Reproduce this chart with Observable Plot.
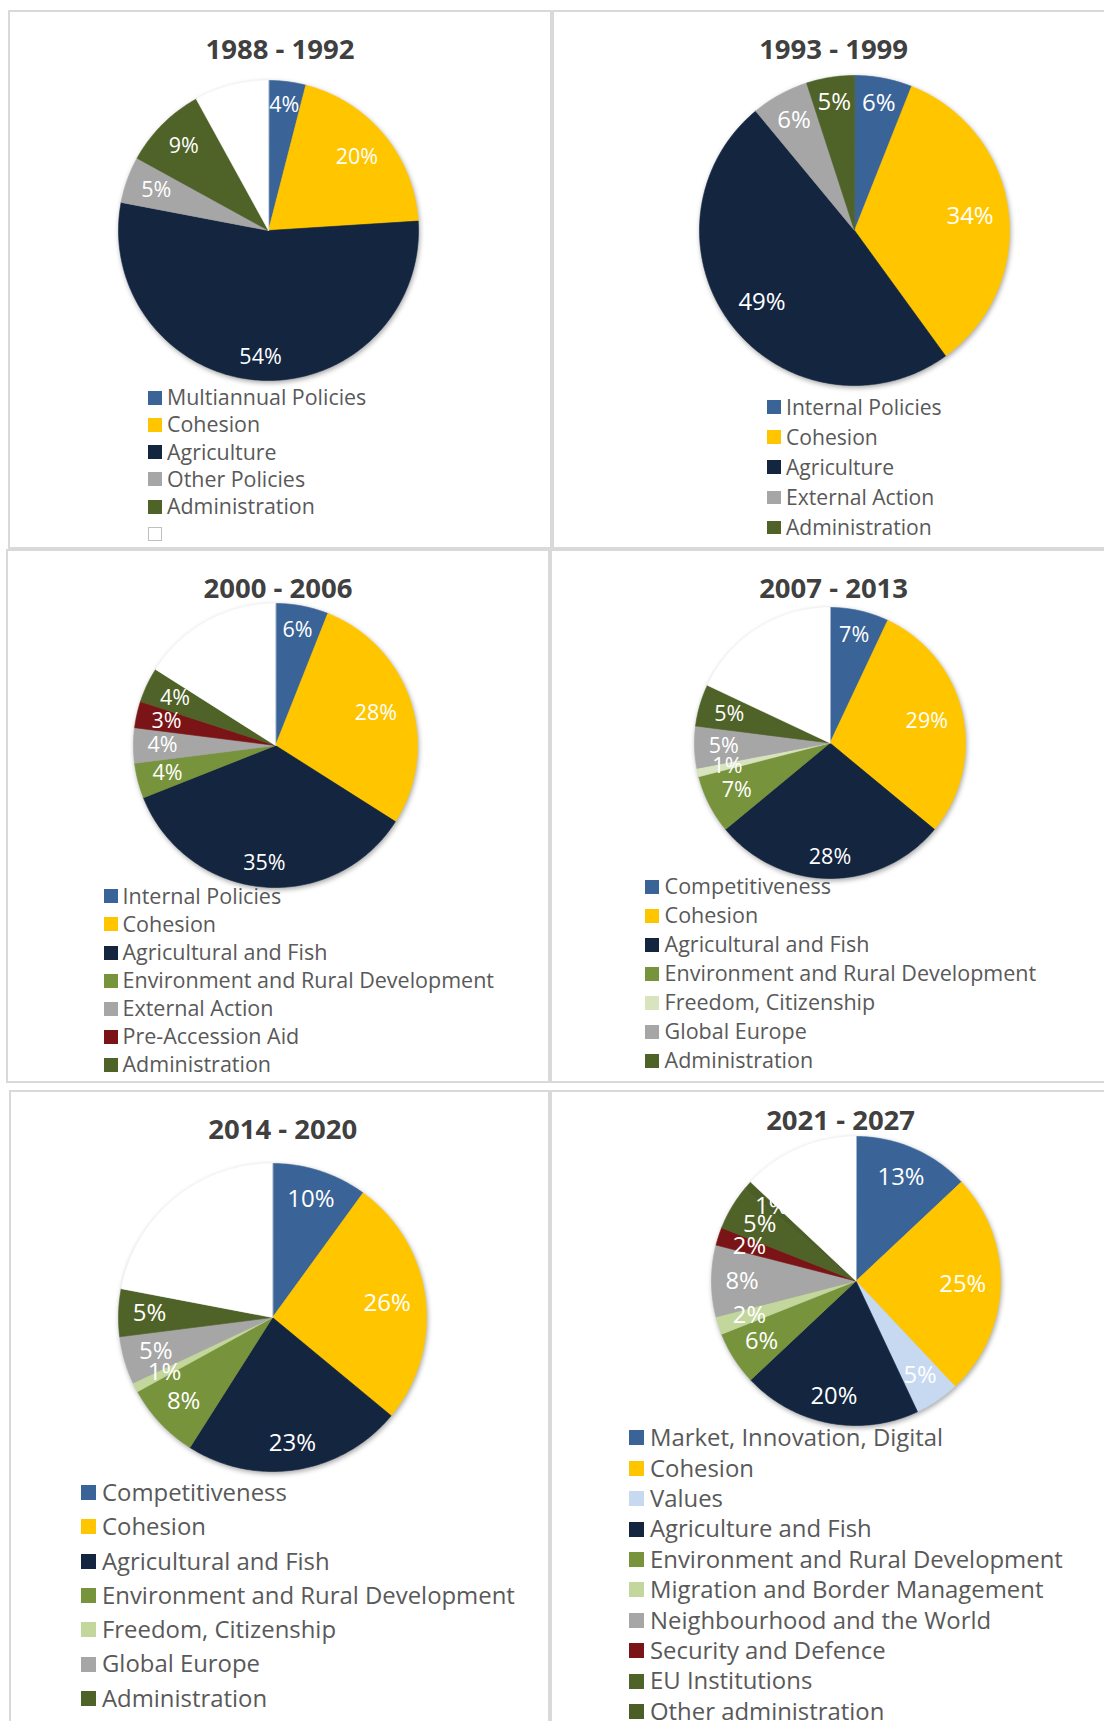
<!DOCTYPE html>
<html><head><meta charset="utf-8">
<script src="https://cdn.jsdelivr.net/npm/d3@7"></script>
<script src="https://cdn.jsdelivr.net/npm/@observablehq/plot@0.6"></script>
<style>
body{margin:0;background:#fff;}
#root{position:relative;width:1104px;height:1721px;overflow:hidden;font-family:'Open Sans',sans-serif;}
.box{position:absolute;box-sizing:border-box;border:2px solid #D9D9D9;}
.t{position:absolute;white-space:nowrap;line-height:1;font-family:'Open Sans',sans-serif;}
.sw{position:absolute;box-sizing:border-box;}
</style></head><body><div id="root"></div>
<script>
// ---------- DATA ----------
const titles = ["1988 - 1992", "1993 - 1999", "2000 - 2006", "2007 - 2013", "2014 - 2020", "2021 - 2027"];

const cats1988 = ["Multiannual Policies", "Cohesion", "Agriculture", "Other Policies", "Administration"];
const vals1988 = [4, 20, 54, 5, 9];

const cats1993 = ["Internal Policies", "Cohesion", "Agriculture", "External Action", "Administration"];
const vals1993 = [6, 34, 49, 6, 5];

const cats2000 = ["Internal Policies", "Cohesion", "Agricultural and Fish", "Environment and Rural Development", "External Action", "Pre-Accession Aid", "Administration"];
const vals2000 = [6, 28, 35, 4, 4, 3, 4];

const cats2007 = ["Competitiveness", "Cohesion", "Agricultural and Fish", "Environment and Rural Development", "Freedom, Citizenship", "Global Europe", "Administration"];
const vals2007 = [7, 29, 28, 7, 1, 5, 5];

const cats2014 = ["Competitiveness", "Cohesion", "Agricultural and Fish", "Environment and Rural Development", "Freedom, Citizenship", "Global Europe", "Administration"];
const vals2014 = [10, 26, 23, 8, 1, 5, 5];

const cats2021 = ["Market, Innovation, Digital", "Cohesion", "Values", "Agriculture and Fish", "Environment and Rural Development", "Migration and Border Management", "Neighbourhood and the World", "Security and Defence", "EU Institutions", "Other administration"];
const vals2021 = [13, 25, 5, 20, 6, 2, 8, 2, 5, 1];

// unlabelled white remainder slice of each pie
const unlabelled = [8, 0, 16, 18, 22, 13];

// ---------- STYLES / LAYOUT ----------
const C = {blue:"#3A6497", yellow:"#FFC600", navy:"#13253F", grey:"#A6A6A6", dgreen:"#4F6228",
  lgreen:"#77933C", pale:"#D7E4BD", pale2:"#C3D69B", red:"#7B1416", lblue:"#C6D9F1", dgreen2:"#4B5E26"};
const panels = [
  {cats:cats1988, vals:vals1988, cols:[C.blue,C.yellow,C.navy,C.grey,C.dgreen], blankKey:true,
   cx:268, cy:230, r:150, lfs:21.5, tx:280, tb:59.6, sx:148, ss:14, lx:167, y0:397.5, dy:27.3, fs:21.4},
  {cats:cats1993, vals:vals1993, cols:[C.blue,C.yellow,C.navy,C.grey,C.dgreen],
   cx:854, cy:230, r:155, lfs:24, tx:833.6, tb:59, sx:767, ss:13.5, lx:786, y0:407, dy:30.1, fs:21.1},
  {cats:cats2000, vals:vals2000, cols:[C.blue,C.yellow,C.navy,C.lgreen,C.grey,C.red,C.dgreen],
   cx:274.5, cy:745, r:142, lfs:21.5, tx:278, tb:598.4, sx:104, ss:14, lx:122.5, y0:896.3, dy:28.1, fs:21.5},
  {cats:cats2007, vals:vals2007, cols:[C.blue,C.yellow,C.navy,C.lgreen,C.pale,C.grey,C.dgreen],
   cx:829, cy:742.5, r:135.5, lfs:21.5, tx:833.6, tb:598.4, sx:645, ss:14, lx:664.6, y0:886.6, dy:29, fs:21.5},
  {cats:cats2014, vals:vals2014, cols:[C.blue,C.yellow,C.navy,C.lgreen,C.pale2,C.grey,C.dgreen],
   cx:272, cy:1317, r:154, lfs:24, tx:282.7, tb:1139.8, sx:81, ss:15, lx:102, y0:1492.6, dy:34.3, fs:23.9},
  {cats:cats2021, vals:vals2021, cols:[C.blue,C.yellow,C.lblue,C.navy,C.lgreen,C.pale2,C.grey,C.red,C.dgreen,C.dgreen2],
   cx:855.4, cy:1280, r:144.5, lfs:23.8, tx:840.6, tb:1130.4, sx:629, ss:15, lx:650, y0:1437.9, dy:30.4, fs:23.9}
];
const boxes = [[8,10,544,539],[552,10,560,539],[6,549,544,534],[550,549,560,534],[9,1090,541,700],[550,1090,560,700]];

const root = document.getElementById("root");
boxes.forEach(([l,t,w,h]) => {
  const d = document.createElement("div");
  d.className = "box";
  d.style.cssText += `left:${l}px;top:${t}px;width:${w}px;height:${h}px;`;
  root.appendChild(d);
});

function addText(txt, x, baseline, fs, weight, color, center) {
  const d = document.createElement("div");
  d.className = "t";
  d.textContent = txt;
  d.style.cssText += `font-size:${fs}px;font-weight:${weight};color:${color};left:${x}px;top:${baseline - 0.888*fs}px;` +
    (center ? "transform:translateX(-50%);" : "");
  root.appendChild(d);
}

function drawPie(vals, rest, cols, L) {
  const all = vals.concat(rest > 0 ? [rest] : []);
  const fills = cols.slice(0, vals.length).concat(rest > 0 ? ["#FFFFFF"] : []);
  const total = d3.sum(all);
  const step = Math.PI / 180;
  const pts = [], labs = [];
  let acc = 0;
  all.forEach((v, i) => {
    const a0 = acc / total * 2 * Math.PI, a1 = (acc + v) / total * 2 * Math.PI;
    acc += v;
    const n = Math.max(2, Math.ceil((a1 - a0) / step));
    pts.push({k: i, x: 0, y: 0, c: fills[i]});
    for (let j = 0; j <= n; j++) {
      const a = a0 + (a1 - a0) * j / n;
      pts.push({k: i, x: Math.sin(a), y: Math.cos(a), c: fills[i]});
    }
    if (i < vals.length) {
      const m = (a0 + a1) / 2, txt = v + "%";
      const w = L.lfs * (0.572 * (txt.length - 1) + 0.824);
      const d = L.r - 14 - (Math.abs(Math.sin(m)) * w / 2 + Math.abs(Math.cos(m)) * 0.36 * L.lfs);
      labs.push({x: Math.sin(m) * d / L.r, y: Math.cos(m) * d / L.r, t: txt});
    }
  });
  const pad = 12, size = 2 * L.r + 2 * pad;
  const svg = Plot.plot({
    width: size, height: size, margin: 0,
    style: {background: "transparent", overflow: "visible"},
    x: {domain: [-1, 1], range: [pad, pad + 2 * L.r], axis: null},
    y: {domain: [-1, 1], range: [pad + 2 * L.r, pad], axis: null},
    color: {type: "identity"},
    marks: [
      Plot.line(pts, {x: "x", y: "y", z: "k", fill: "c", stroke: "c", strokeWidth: 0.6, curve: "linear-closed"}),
      Plot.text(labs, {x: "x", y: "y", text: "t", fill: "white", fontSize: L.lfs, fontFamily: "'Open Sans', sans-serif"})
    ]
  });
  svg.style.position = "absolute";
  svg.style.left = (L.cx - L.r - pad) + "px";
  svg.style.top = (L.cy - L.r - pad) + "px";
  const g = svg.querySelector('g[aria-label="line"]');
  if (g) g.style.filter = "drop-shadow(1.5px 2.5px 2.5px rgba(0,0,0,0.35))";
  root.appendChild(svg);
}

panels.forEach((L, p) => {
  drawPie(L.vals, unlabelled[p], L.cols, L);
  addText(titles[p], L.tx, L.tb, 27.5, 700, "#404040", true);
  const items = L.cats.map((c, i) => ({name: c, col: L.cols[i]}));
  if (L.blankKey) items.push({name: "", col: "#FFFFFF", blank: true});
  items.forEach((it, i) => {
    const yc = L.y0 + i * L.dy;
    const s = document.createElement("div");
    s.className = "sw";
    s.style.cssText += `left:${L.sx}px;top:${yc - L.ss/2}px;width:${L.ss}px;height:${L.ss}px;background:${it.col};` +
      (it.blank ? "border:1.5px solid #BFBFBF;" : "");
    root.appendChild(s);
    if (it.name) addText(it.name, L.lx, yc + 0.357 * L.fs, L.fs, 400, "#595959", false);
  });
});
</script></body></html>
